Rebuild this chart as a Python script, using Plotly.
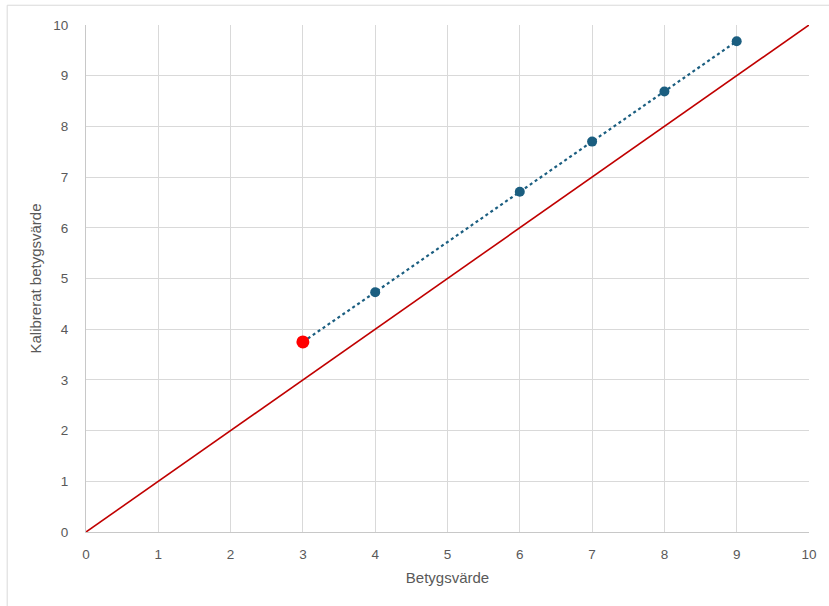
import plotly.graph_objects as go

# Grade values and their calibrated counterparts
grade_values = [3, 4, 6, 7, 8, 9]
calibrated_values = [3.75, 4.73, 6.71, 7.70, 8.69, 9.68]

# Reference line y = x
ref_x = [0, 10]
ref_y = [0, 10]

tick_vals = list(range(0, 11))

fig = go.Figure()

fig.add_trace(go.Scatter(
    x=ref_x, y=ref_y, mode="lines",
    line=dict(color="#c00000", width=1.6),
    showlegend=False, hoverinfo="skip",
))

# Dotted connecting line
fig.add_trace(go.Scatter(
    x=grade_values, y=calibrated_values, mode="lines",
    line=dict(color="#1b5e80", width=2.2, dash="dot"),
    showlegend=False, hoverinfo="skip",
))

# Markers on top (first point highlighted in red)
fig.add_trace(go.Scatter(
    x=grade_values, y=calibrated_values, mode="markers",
    marker=dict(color=["#ff0000"] + ["#1b5e80"] * (len(grade_values) - 1),
                size=[13] + [10] * (len(grade_values) - 1),
                opacity=1, line=dict(width=0)),
    showlegend=False,
))

fig.update_layout(
    width=829, height=606,
    margin=dict(l=86, r=20, t=25, b=74),
    paper_bgcolor="white", plot_bgcolor="white",
    font=dict(family="Liberation Sans, Arial, sans-serif", color="#595959", size=13.5),
    xaxis=dict(
        range=[0, 10], tickvals=tick_vals, showgrid=True, gridcolor="#d9d9d9", gridwidth=1,
        zeroline=False, showline=True, linecolor="#c8c8c8", linewidth=1, mirror=False,
        ticks="", ticklabelstandoff=10,
        title=dict(text="Betygsvärde", font=dict(size=15, color="#595959"), standoff=11),
    ),
    yaxis=dict(
        range=[0, 10], tickvals=tick_vals, showgrid=True, gridcolor="#d9d9d9", gridwidth=1,
        zeroline=False, showline=True, linecolor="#c8c8c8", linewidth=1,
        ticks="", ticklabelstandoff=14,
        title=dict(text="Kalibrerat betygsvärde", font=dict(size=15, color="#595959"), standoff=8),
    ),
    shapes=[dict(
        type="rect", xref="paper", yref="paper",
        x0=-0.109, x1=1.2, y0=-0.3, y1=1.039,
        line=dict(color="#d9d9d9", width=1), fillcolor="rgba(0,0,0,0)", layer="below",
    )],
)

fig.write_html("out.html")
